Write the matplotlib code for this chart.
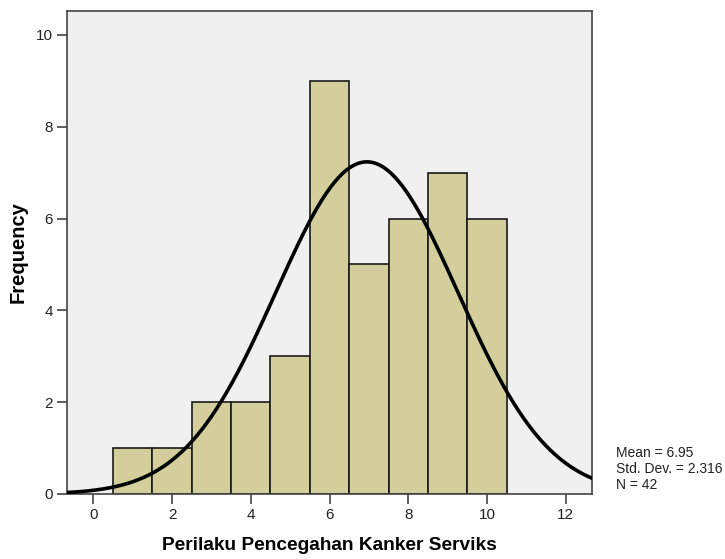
import numpy as np
import matplotlib.pyplot as plt

plt.rcParams['font.family'] = ['Liberation Sans', 'DejaVu Sans']

valeurs = [1, 2, 3, 4, 5, 6, 7, 8, 9, 10]
effectifs = [1, 1, 2, 2, 3, 9, 5, 6, 7, 6]
moyenne = 6.95
ecart_type = 2.316
n_total = 42

fig = plt.figure(figsize=(7.25, 5.59), dpi=100)
ax = fig.add_axes([0.0924, 0.1163, 0.7242, 0.864])
ax.set_facecolor('#f0f0f0')

ax.bar(valeurs, effectifs, width=1.0, color='#d3ce9b', edgecolor='#1a1a1a', linewidth=1.2, zorder=2)

# courbe normale (effectif * densite * largeur de classe)
x = np.linspace(-0.67, 12.67, 400)
y = n_total * np.exp(-0.5 * ((x - moyenne) / ecart_type) ** 2) / (ecart_type * np.sqrt(2 * np.pi))
ax.plot(x, y, color='black', linewidth=2.6, zorder=3)

ax.set_xlim(-0.67, 12.67)
ax.set_ylim(0, 10.52)
ax.set_xticks([0, 2, 4, 6, 8, 10, 12])
ax.set_yticks([0, 2, 4, 6, 8, 10])

for s in ax.spines.values():
    s.set_color('#444444')
    s.set_linewidth(1.2)
ax.tick_params(direction='out', length=7, width=1.2, color='#444444', labelsize=11, labelcolor='#222222', pad=3)

ax.set_xlabel("Perilaku Pencegahan Kanker Serviks", fontsize=13.8, fontweight='bold', labelpad=11)
ax.set_ylabel("Frequency", fontsize=14.5, fontweight='bold', labelpad=6)

fig.text(0.849, 0.202, f"Mean = {moyenne}\nStd. Dev. = {ecart_type}\nN = {n_total}",
         fontsize=10, va='top', ha='left', color='#222222', linespacing=1.2)

fig.savefig('out.png', dpi=100)
